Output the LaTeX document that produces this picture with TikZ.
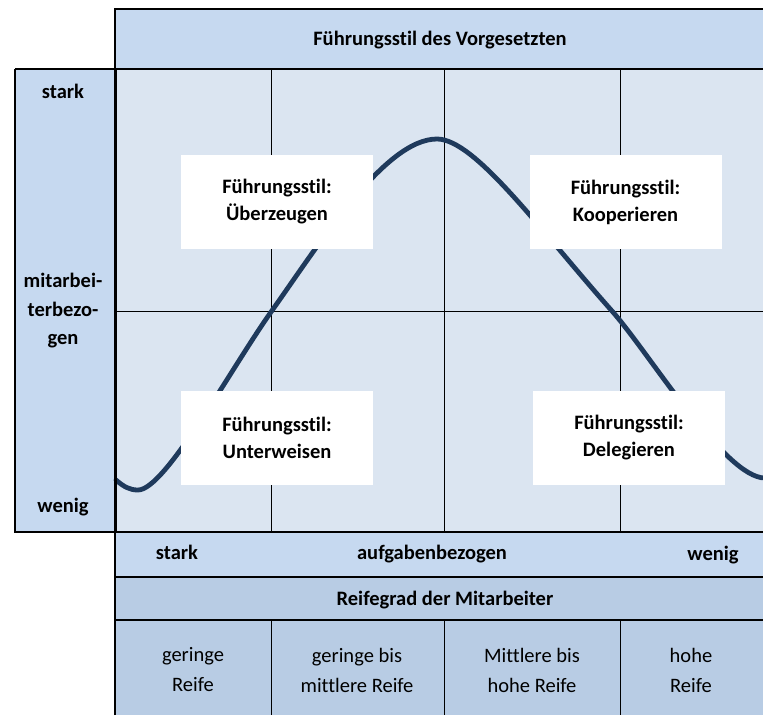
\documentclass[tikz,border=0pt]{standalone}
\usepackage{fontspec}
\setmainfont{Carlito}[Ligatures={NoCommon}]
\definecolor{hdr}{HTML}{C6D9F0}
\definecolor{mainbg}{HTML}{DBE5F1}
\definecolor{reif}{HTML}{B8CCE4}
\definecolor{curvec}{HTML}{1F3A5C}
\tikzset{
  thickln/.style={line width=2.6pt, black},
  gridln/.style={line width=0.8pt, black},
  wbox/.style={fill=white, draw=none, minimum width=192pt, minimum height=94pt, align=center, inner sep=0pt, font=\fontsize{20.5}{27}\selectfont\bfseries},
  blab/.style={inner sep=0pt, align=center, font=\fontsize{20.5}{28.5}\selectfont\bfseries},
  rlab/.style={inner sep=0pt, align=center, font=\fontsize{20.5}{30}\selectfont},
}
\begin{document}
\begin{tikzpicture}[x=1pt,y=-1pt]
\useasboundingbox (0,0) rectangle (763,715);
% fills
\fill[hdr] (115,9) rectangle (763,69);
\fill[hdr] (15,69) rectangle (116,532);
\fill[mainbg] (116,69) rectangle (763,532);
\fill[hdr] (115,532) rectangle (763,577);
\fill[reif] (115,577) rectangle (763,715);
% grid
\draw[gridln] (271,69) -- (271,532);
\draw[gridln] (444,69) -- (444,532);
\draw[gridln] (620,69) -- (620,532);
\draw[gridln] (116,311) -- (763,311);
\draw[gridln] (271,620) -- (271,715);
\draw[gridln] (444,620) -- (444,715);
\draw[gridln] (620,620) -- (620,715);
% curve
\draw[curvec, line width=4.8pt, line cap=round]
  (116,480) .. controls (124,487) and (130,490) .. (138,490)
  .. controls (165,490) and (230,370) .. (271,312)
  .. controls (320,243) and (385,139) .. (437,139)
  .. controls (475,139) and (540,230) .. (612,311)
  .. controls (650,354) and (725,478) .. (765,478);
% white boxes
\node[wbox] (ueb) at (277,202) {Führungsstil:\\Überzeugen};
\node[wbox] (koop) at (625.5,202) {Führungsstil:\\Kooperieren};
\node[wbox] (unt) at (277,438) {Führungsstil:\\Unterweisen};
\node[wbox] (deleg) at (629,438) {Führungsstil:\\Delegieren};
% thick borders
\draw[thickln] (115,715) -- (115,9) -- (763,9);
\draw[thickln] (15,69) -- (763,69);
\draw[thickln] (15,69) -- (15,532) -- (763,532);
\draw[thickln] (116,69) -- (116,532);
\draw[thickln] (115,577) -- (763,577);
\draw[thickln] (115,620) -- (763,620);
% labels
\node[blab] (title) at (440,40) {Führungsstil des Vorgesetzten};
\node[blab] (lstark) at (63,91) {stark};
\node[blab] (lmit) at (63,311) {mitarbei-\\terbezo-\\gen};
\node[blab] (lwenig) at (63,507) {wenig};
\node[blab] (bstark) at (177,552) {stark};
\node[blab] (bauf) at (432,554) {aufgabenbezogen};
\node[blab] (bwenig) at (713,555) {wenig};
\node[blab] (reifegrad) at (445,600) {Reifegrad der Mitarbeiter};
\node[rlab] (c1) at (193,670) {geringe\\Reife};
\node[rlab] (c2) at (357,670) {geringe bis\\mittlere Reife};
\node[rlab] (c3) at (532,670) {Mittlere bis\\hohe Reife};
\node[rlab] (c4) at (691,670) {hohe\\Reife};
\end{tikzpicture}
\end{document}
